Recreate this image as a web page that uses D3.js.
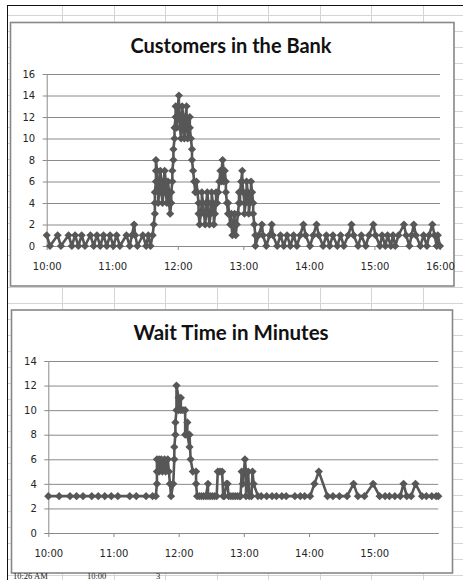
<!DOCTYPE html>
<html><head><meta charset="utf-8">
<script src="https://cdn.jsdelivr.net/npm/d3@7"></script>
<style>html,body{margin:0;padding:0;background:#fff;overflow:hidden}</style>
</head><body><svg id="c" width="463" height="580"></svg>
<script>
// ---------- DATA ----------
const customerTitle = "Customers in the Bank";
const waitTitle = "Wait Time in Minutes";

const customerXTicks = ["10:00","11:00","12:00","13:00","14:00","15:00","16:00"];
const customerYTicks = [0,2,4,6,8,10,12,14,16];
const waitXTicks = ["10:00","11:00","12:00","13:00","14:00","15:00"];
const waitYTicks = [0,2,4,6,8,10,12,14];

const customerTimes = [
"10:00","10:03","10:10","10:13","10:20","10:23","10:26","10:29","10:32","10:35",
"10:40","10:43","10:46","10:49","10:52","10:55","10:58","11:01","11:04","11:07",
"11:13","11:16","11:18","11:20","11:21","11:23","11:28","11:31","11:33","11:35",
"11:37","11:38",
"11:39","11:39","11:39","11:40","11:40","11:40","11:41","11:41","11:42","11:42",
"11:43","11:43","11:44","11:45","11:45","11:46","11:47","11:47","11:48","11:49",
"11:49","11:50","11:51","11:51","11:52","11:52","11:53","11:54","11:54","11:55",
"11:55","11:56","11:56","11:57","11:57","11:58","11:58","11:59","11:59","12:00",
"12:00","12:01","12:01","12:02","12:02","12:03","12:03","12:04","12:04","12:05",
"12:05","12:06","12:07","12:07","12:08","12:08","12:09","12:09","12:10","12:11",
"12:11","12:12","12:13","12:13","12:14","12:15","12:16","12:17","12:18","12:19",
"12:19","12:20","12:21","12:22","12:22","12:23","12:24","12:25","12:26","12:26",
"12:27","12:28","12:28","12:29","12:30","12:31","12:31","12:32","12:33","12:33",
"12:34","12:35","12:35","12:36","12:37","12:38","12:39","12:40","12:40","12:41",
"12:42","12:42","12:43","12:44","12:44","12:45","12:46","12:46","12:47","12:48",
"12:49","12:49","12:50","12:51","12:52","12:52","12:53","12:54","12:55","12:56",
"12:56","12:57","12:57","12:58","12:59","12:59","13:00","13:01","13:01","13:02",
"13:03","13:03","13:04","13:05","13:05","13:06","13:07","13:07","13:08","13:09",
"13:09","13:10","13:11","13:11",
"13:14","13:17","13:18","13:21","13:24","13:26","13:27","13:31","13:34","13:37",
"13:40","13:43","13:46","13:49","13:52","13:55","13:57","14:01","14:04","14:07",
"14:09","14:13","14:16","14:19","14:22","14:26","14:29","14:32","14:36","14:39",
"14:41","14:45","14:48","14:52","14:55","14:59","15:01","15:05","15:07","15:10",
"15:12","15:15","15:17","15:19","15:22","15:27","15:29","15:32","15:34","15:36",
"15:38","15:42","15:45","15:48","15:50","15:53","15:55","15:57","15:58","16:00"
];
const customerCounts = [
1,0,1,0,1,0,1,0,1,0,
1,0,1,0,1,0,1,0,1,0,
1,0,1,2,1,0,1,0,1,0,
1,2,
3,4,5,6,7,8,7,6,5,4,
5,6,7,6,5,4,5,6,7,6,
5,4,5,6,5,4,3,4,5,6,
7,8,9,10,11,12,13,12,11,12,
13,14,13,12,11,10,11,12,13,12,
11,10,11,12,13,12,11,10,11,12,
11,10,9,8,7,6,5,6,5,4,
3,2,3,4,5,4,3,2,3,4,
5,4,3,2,3,4,5,4,3,2,
3,4,5,4,5,6,7,6,7,8,
7,6,7,6,5,4,3,4,3,2,
3,2,1,2,3,2,1,2,3,4,
5,4,5,6,7,6,5,4,3,4,
5,6,5,4,3,4,5,6,5,4,
3,2,1,0,
1,2,1,0,1,2,1,0,1,0,
1,0,1,0,1,2,1,0,1,2,
1,0,1,0,1,0,1,0,1,2,
1,0,1,0,1,2,1,0,1,0,
1,0,1,0,1,2,1,0,1,2,
1,0,1,0,1,2,1,0,1,0
];

const waitTimes = [
"10:00","10:10","10:20","10:26","10:32","10:40","10:46","10:52","10:58","11:04",
"11:15","11:21","11:30","11:36","11:39","11:40","11:40","11:40","11:42","11:42",
"11:44","11:45","11:47","11:48","11:50","11:51","11:52","11:53","11:55","11:56",
"11:56","11:57","11:57","11:58","11:58","12:00","12:00","12:02","12:02","12:04",
"12:06","12:06","12:08","12:08","12:10","12:10","12:11","12:13","12:16","12:16",
"12:17","12:19","12:21","12:23","12:25","12:27","12:27","12:29","12:31","12:33",
"12:35","12:36","12:38","12:40","12:41","12:42","12:44","12:45","12:46","12:48",
"12:50","12:52","12:54","12:56","12:57","12:58","12:59","13:01","13:02","13:02",
"13:04","13:05","13:07","13:08","13:09","13:13","13:16","13:21","13:26","13:30",
"13:35","13:39","13:47","13:52","13:56","14:01","14:05","14:09","14:17","14:22",
"14:28","14:35","14:41","14:45","14:51","14:59","15:05","15:10","15:14","15:19",
"15:24","15:27","15:30","15:34","15:38","15:44","15:48","15:53","15:57","15:59"
];
const waitMinutes = [
3,3,3,3,3,3,3,3,3,3,
3,3,3,3,3,4,5,6,6,5,
6,5,6,5,6,5,4,3,4,6,
7,8,9,10,12,11,10,11,10,10,
10,8,9,8,7,8,6,5,5,4,
3,3,3,3,3,4,3,3,3,3,
3,5,5,5,3,3,4,4,3,3,
3,3,3,3,3,5,4,6,5,3,
5,3,3,5,4,3,3,3,3,3,
3,3,3,3,3,3,4,5,3,3,
3,3,4,3,3,4,3,3,3,3,
3,4,3,3,4,3,3,3,3,3
];

const sheetRowTexts = ["10:26 AM","10:00","3"];

// ---------- DRAW ----------
const parse = d3.timeParse("%H:%M");
const svg = d3.select("#c");
const W = 463, H = 580;
const ink = "#575757";
const gridCol = "#8a8a8a";

// spreadsheet background
const sheet = svg.append("g");
sheet.append("rect").attr("width", W).attr("height", H).attr("fill", "#fff");
d3.range(62, W, 51.5).forEach(x => sheet.append("line")
  .attr("x1", Math.round(x)+0.5).attr("x2", Math.round(x)+0.5).attr("y1", 5).attr("y2", H)
  .attr("stroke", "#d4d4d4"));
d3.range(15.5, H, 16).forEach(y => sheet.append("line")
  .attr("x1", 7).attr("x2", W).attr("y1", y).attr("y2", y).attr("stroke", "#d4d4d4"));
sheet.append("line").attr("x1", 7).attr("x2", W).attr("y1", 5.5).attr("y2", 5.5).attr("stroke", "#111");
sheet.append("line").attr("x1", 7.5).attr("x2", 7.5).attr("y1", 5).attr("y2", H).attr("stroke", "#111");

function drawChart(cfg) {
  const g = svg.append("g");
  g.append("rect").attr("x", cfg.frame[0]).attr("y", cfg.frame[1])
    .attr("width", cfg.frame[2]).attr("height", cfg.frame[3])
    .attr("fill", "#fff").attr("stroke", "#888").attr("stroke-width", 1.6);
  g.append("text").attr("x", cfg.titleX).attr("y", cfg.titleY).attr("text-anchor", "middle")
    .attr("font-family", "Lato, 'Open Sans', sans-serif").attr("font-weight", "bold")
    .attr("font-size", cfg.titleSize).attr("fill", "#111").text(cfg.title);

  const x = d3.scaleTime().domain(cfg.xDomain.map(parse)).range([cfg.left, cfg.right]);
  const y = d3.scaleLinear().domain([0, d3.max(cfg.yTicks)]).range([cfg.bottom, cfg.top]);

  // gridlines
  const grid = g.append("g").attr("transform", `translate(${cfg.left},0)`)
    .call(d3.axisLeft(y).tickValues(cfg.yTicks).tickSize(-(cfg.right - cfg.left)).tickFormat(""));
  grid.select(".domain").remove();
  grid.selectAll(".tick line").attr("stroke", gridCol).attr("stroke-width", 1);

  // y axis
  const ya = g.append("g").attr("transform", `translate(${cfg.left},0)`)
    .call(d3.axisLeft(y).tickValues(cfg.yTicks).tickSize(4).tickSizeOuter(0).tickPadding(7.5).tickFormat(d3.format("d")));
  ya.select(".domain").attr("stroke", gridCol);
  ya.selectAll(".tick line").attr("stroke", gridCol);
  ya.selectAll("text").attr("font-family", "DejaVu Sans").attr("font-size", 10).attr("fill", "#262626");

  // x axis
  const xa = g.append("g").attr("transform", `translate(0,${cfg.bottom})`)
    .call(d3.axisBottom(x).tickValues(cfg.xTicks.map(parse)).tickSize(4).tickSizeOuter(0)
      .tickPadding(12.5).tickFormat(d3.timeFormat("%H:%M")));
  xa.select(".domain").attr("stroke", gridCol);
  xa.selectAll(".tick line").attr("stroke", gridCol);
  xa.selectAll("text").attr("font-family", "DejaVu Sans").attr("font-size", 10).attr("fill", "#262626");

  const data = cfg.times.map((t, i) => ({t: parse(t), v: cfg.values[i]}));
  const line = d3.line().x(d => x(d.t)).y(d => y(d.v));
  g.append("path").datum(data).attr("d", line).attr("fill", "none")
    .attr("stroke", ink).attr("stroke-width", 2.6).attr("stroke-linejoin", "round");
  const r = 4.1;
  g.append("g").selectAll("path").data(data).join("path")
    .attr("transform", d => `translate(${x(d.t)},${y(d.v)})`)
    .attr("d", `M0,${-r}L${r},0L0,${r}L${-r},0Z`).attr("fill", ink);
}

drawChart({
  frame: [10.5, 22.5, 443.5, 263.5], title: customerTitle, titleX: 231, titleY: 53, titleSize: 20,
  left: 46.7, right: 440, top: 74, bottom: 246,
  xDomain: ["10:00", "16:00"], xTicks: customerXTicks, yTicks: customerYTicks,
  times: customerTimes, values: customerCounts
});
drawChart({
  frame: [11.5, 310, 441, 263], title: waitTitle, titleX: 231, titleY: 339.5, titleSize: 20.5,
  left: 48.3, right: 438.3, top: 361, bottom: 533,
  xDomain: ["10:00", "15:59"], xTicks: waitXTicks, yTicks: waitYTicks,
  times: waitTimes, values: waitMinutes
});

// sheet cell texts peeking out below the second chart
const rowTextX = [13, 87, 156];
sheetRowTexts.forEach((t, i) => svg.append("text").attr("x", rowTextX[i]).attr("y", 579)
  .attr("font-family", "Liberation Serif").attr("font-size", 8.5).attr("fill", "#222").text(t));
</script></body></html>
